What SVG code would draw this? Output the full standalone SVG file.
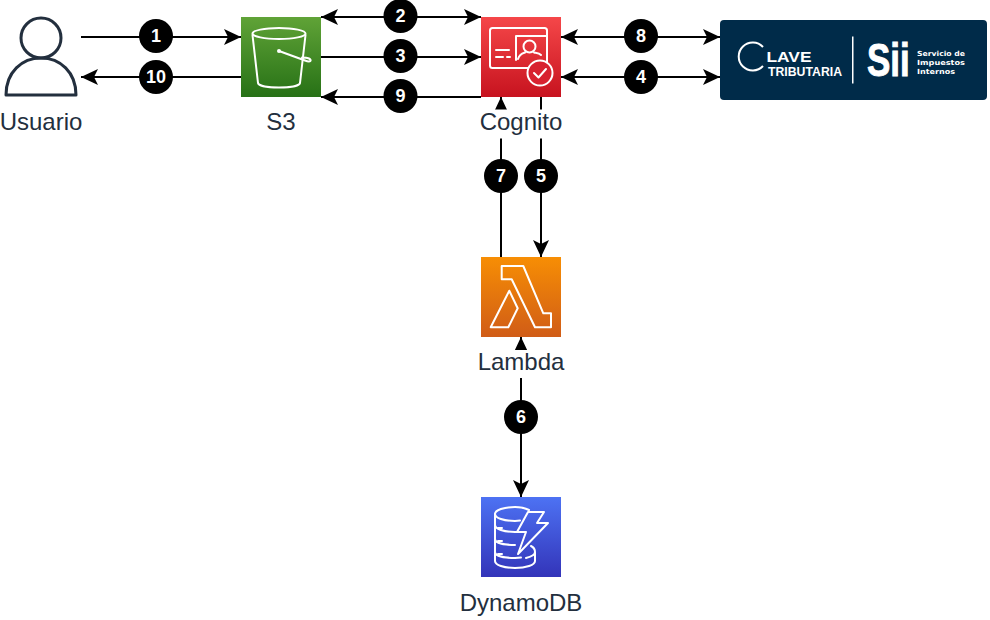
<svg xmlns="http://www.w3.org/2000/svg" width="990" height="620" viewBox="0 0 990 620">
<style>
text{font-family:"Liberation Sans",Arial,sans-serif}
.lb{font-size:24px;fill:#232f3e;text-anchor:middle}
.conn line{stroke:#000;stroke-width:2;fill:none}
.num circle{fill:#000}
.num text{fill:#fff;font-size:18px;font-weight:bold;text-anchor:middle}
.ic{fill:none;stroke:#fff;stroke-width:2;stroke-linejoin:round;stroke-linecap:round}
.bg{fill:#fff}
.lg{fill:#fff;font-weight:bold}
.sm{font-family:"DejaVu Sans",sans-serif;font-size:7px}
</style>
<defs>
<marker id="ah" markerUnits="userSpaceOnUse" markerWidth="20" markerHeight="20" refX="17" refY="8" orient="auto-start-reverse" viewBox="0 0 20 16"><path d="M0,0 L17,8 L0,16 L4,8 Z" fill="#000"/></marker>
<linearGradient id="gs" x1="0" y1="0" x2="0" y2="1"><stop offset="0" stop-color="#60a337"/><stop offset="1" stop-color="#277116"/></linearGradient>
<linearGradient id="gc" x1="0" y1="0" x2="0" y2="1"><stop offset="0" stop-color="#f54749"/><stop offset="1" stop-color="#c7131f"/></linearGradient>
<linearGradient id="gl" x1="0" y1="0" x2="0" y2="1"><stop offset="0" stop-color="#f78e04"/><stop offset="1" stop-color="#d05c17"/></linearGradient>
<linearGradient id="gd" x1="0" y1="0" x2="0" y2="1"><stop offset="0" stop-color="#4d72f3"/><stop offset="1" stop-color="#3334b9"/></linearGradient>
</defs>
<g id="connectors" class="conn">
<line x1="81" y1="37" x2="241" y2="37" marker-end="url(#ah)"/>
<line x1="241" y1="77" x2="81" y2="77" marker-end="url(#ah)"/>
<line x1="321" y1="17" x2="481" y2="17" marker-start="url(#ah)" marker-end="url(#ah)"/>
<line x1="321" y1="57" x2="481" y2="57" marker-end="url(#ah)"/>
<line x1="481" y1="97" x2="321" y2="97" marker-end="url(#ah)"/>
<line x1="561" y1="37" x2="720" y2="37" marker-start="url(#ah)" marker-end="url(#ah)"/>
<line x1="561" y1="77" x2="720" y2="77" marker-start="url(#ah)" marker-end="url(#ah)"/>
<line x1="541" y1="97" x2="541" y2="257" marker-end="url(#ah)"/>
<line x1="501" y1="257" x2="501" y2="97" marker-end="url(#ah)"/>
<line x1="521" y1="337" x2="521" y2="497" marker-start="url(#ah)" marker-end="url(#ah)"/>
</g>
<g id="usuario">
<circle cx="41" cy="38" r="20" fill="none" stroke="#232f3e" stroke-width="3"/>
<path d="M6,95 C6,72 22,58 41,58 C60,58 76,72 76,95 Z" fill="none" stroke="#232f3e" stroke-width="3" stroke-linejoin="round"/>
<text class="lb" x="41" y="130">Usuario</text>
</g>
<g id="s3">
<rect x="241" y="17" width="80" height="80" fill="url(#gs)"/>
<ellipse cx="279" cy="33.500" rx="26.500" ry="5.500" class="ic"/>
<path class="ic" d="M252.500,35 L258,83 C259,89 299,89 300,83 L305.500,35"/>
<path class="ic" d="M279,51 L305,60.500 C311,63 312,60 309,58.500 C307,57.500 304,57.500 302,57.500"/>
<circle cx="279" cy="51" r="2" fill="#fff"/>
<text class="lb" x="281" y="130">S3</text>
</g>
<g id="cognito">
<rect x="481" y="17" width="80" height="80" fill="url(#gc)"/>
<rect x="490" y="28" width="57" height="40" rx="2.500" class="ic"/>
<path class="ic" d="M516,60 L516,36 L547,36"/>
<circle cx="529.500" cy="46.500" r="6" class="ic"/>
<path class="ic" d="M518,59 C520,53 524,53 525,52.500 M541,55 C539,53 536,53 534,52.500"/>
<path class="ic" d="M496,50 H509 M496,57 H503 M507,57 H510"/>
<circle cx="540" cy="73" r="12.500" fill="#d82230" stroke="#fff" stroke-width="2"/>
<path class="ic" d="M534,73 L538.500,77.500 L546,69"/>
<rect class="bg" x="479" y="109.500" width="84" height="29"/>
<text class="lb" x="521" y="130">Cognito</text>
</g>
<g id="clave">
<rect x="720" y="20" width="267" height="80" rx="4" fill="#002b49"/>
<path d="M763,47 A14,14 0 1 0 763,66" fill="none" stroke="#fff" stroke-width="2"/>
<text class="lg" x="766.500" y="62" font-size="15.500" textLength="45" lengthAdjust="spacingAndGlyphs">LAVE</text>
<text class="lg" x="768" y="76" font-size="12.500" textLength="74" lengthAdjust="spacingAndGlyphs">TRIBUTARIA</text>
<rect x="852" y="36.500" width="1.500" height="47" fill="#fff"/>
<text class="lg" transform="translate(867,76) scale(.76,1)" x="0" y="0" font-size="46" stroke="#fff" stroke-width="1">Sii</text>
<text class="lg sm" x="917" y="56" textLength="48" lengthAdjust="spacingAndGlyphs">Servicio de</text>
<text class="lg sm" x="917" y="65" textLength="48" lengthAdjust="spacingAndGlyphs">Impuestos</text>
<text class="lg sm" x="917" y="74" textLength="38" lengthAdjust="spacingAndGlyphs">Internos</text>
</g>
<g id="lambda">
<rect x="481" y="257" width="80" height="80" fill="url(#gl)"/>
<path class="ic" d="M501.700,266 H523.300 L543.300,313.300 H551 V327.300 H535 L511.700,279.300 H501.700 Z"/>
<path class="ic" d="M509.300,290.700 L517.700,308.300 L508.300,327.300 H490.700 Z"/>
<rect class="bg" x="476" y="350" width="90" height="28"/>
<text class="lb" x="521" y="370">Lambda</text>
</g>
<g id="dynamodb">
<rect x="481" y="497" width="80" height="80" fill="url(#gd)"/>
<path class="ic" d="M529,510 C525,508 520,507 515,507 C504,507 495,510 495,514 C495,518 504,521 515,521 L520,520.500"/>
<path class="ic" d="M495,514 V525 C495,529 504,532 515,532 L518,532 M495,525 V539 C495,543 504,545 515,545 M495,539 V552 C495,556 504,558 515,558 L521,557.500 M495,552 V561 C495,565 504,568 515,568 C526,568 535,565 535,561 V552 C535,549 533,547 531,546 M535,552 C535,555 530,557 526,558"/>
<path class="ic" d="M498,528 H502 M498,541 H502 M498,554 H502"/>
<path class="ic" d="M528,512 H544 L537,523 H548 L518,554 L526,532 H517 Z"/>
<text class="lb" x="521" y="611">DynamoDB</text>
</g>
<g id="labels" class="num">
<circle cx="156" cy="36" r="17"/><text x="156" y="42">1</text>
<circle cx="156" cy="77" r="17"/><text x="156" y="83">10</text>
<circle cx="400.500" cy="16" r="17"/><text x="400.500" y="22">2</text>
<circle cx="400.500" cy="56" r="17"/><text x="400.500" y="62">3</text>
<circle cx="400.500" cy="96" r="17"/><text x="400.500" y="102">9</text>
<circle cx="641" cy="36" r="17"/><text x="641" y="42">8</text>
<circle cx="641" cy="77" r="17"/><text x="641" y="83">4</text>
<circle cx="501" cy="176" r="17"/><text x="501" y="182">7</text>
<circle cx="541" cy="176" r="17"/><text x="541" y="182">5</text>
<circle cx="521" cy="417" r="17"/><text x="521" y="423">6</text>
</g>
</svg>
